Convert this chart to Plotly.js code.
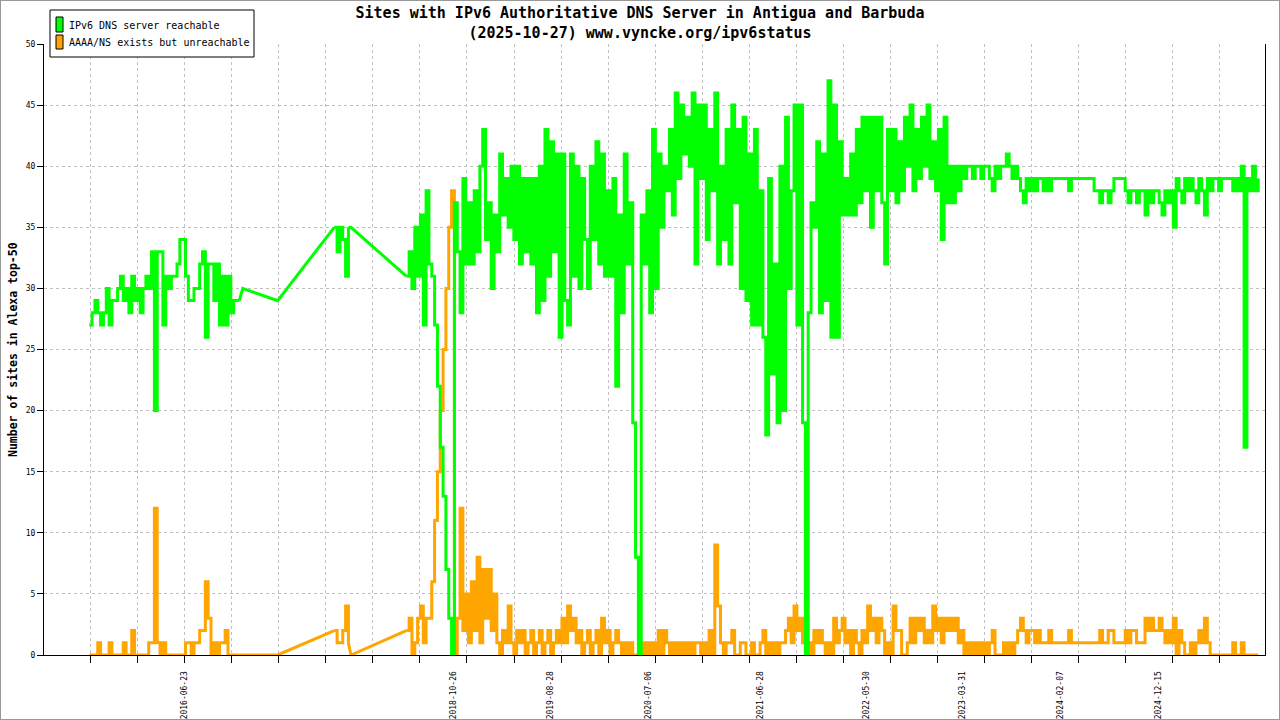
<!DOCTYPE html>
<html><head><meta charset="utf-8">
<script src="https://cdn.plot.ly/plotly-3.0.1.min.js"></script>
<style>
html,body{margin:0;padding:0;background:#fff}
#chart{width:1280px;height:720px}
#frame{position:absolute;left:0;top:0;width:1280px;height:720px;box-sizing:border-box;border:1px solid #999;pointer-events:none}
</style>
</head><body><div id="chart"></div><div id="frame"></div>
<script>
// ---- data ----
const stepDays = 9;
const seg1Start = '2015-08-24';
const seg2Start = '2017-10-11';
const seg3Start = '2018-05-28';

const green1 = [27,28,29,28,27,28, 30,27,29,29,30,31, 29,30,28,31,29,30, 28,30,31,30,33,20,
  33,33,27,31,30,31, 31,32,34,34,31,29, 29,30,30,32,33,26, 32,32,29,32,27,31, 27,31,28,29,29,29];
const orange1 = [0,0,0,1,0,0, 0,1,0,0,0,0, 1,0,0,2,0,0, 0,0,0,1,1,12,
  1,0,1,0,0,0, 0,0,0,0,1,1, 0,1,1,2,2,6, 3,0,1,0,1,1, 2,0,0,0,0,0];

const gapDatesA = ['2016-12-24','2017-04-14'];
const greenGapA = [30,29];
const orangeGapA = [0,0];

const green2 = [35,33,35,34,31,35];
const orange2 = [2,1,1,2,4,1];

const gapDatesB = ['2017-12-03'];
const greenGapB = [35];
const orangeGapB = [0];

const green3 = [
 31,33,30,35,31,36, 27,38,32,31,27,22, 17,13,7,3,0,37, 33,28,39,32,37,32,
 38,33,40,43,34,37, 30,36,33,41,36,39, 35,40,34,40,32,39, 33,39,32,39,28,40,
 29,43,31,42,33,41, 26,41,29,27,41,31, 40,30,39,34,30,40, 34,42,32,41,31,38,
 31,39,22,36,28,41, 32,37,19,8,0,36, 32,38,28,43,30,41, 35,40,38,43,36,46,
 39,45,41,44,40,46, 32,45,39,45,34,43, 38,46,32,40,34,43, 32,45,37,43,30,44,
 29,41,27,43,27,38, 26,18,39,23,32,19, 40,20,44,30,38,45, 27,45,19,0,28,37,
 35,42,28,41,29,47, 26,45,26,42,36,39, 36,41,36,43,37,44, 38,44,35,44,38,44,
 37,32,43,38,43,37, 42,38,44,40,45,38, 43,39,44,40,45,39, 42,38,43,34,44,37,
 40,37,40,38,40,39, 40,40,39,40,40,39, 40,40,39,38,40,39, 40,40,41,40,39,40,
 39,38,37,39,38,39, 38,39,39,38,39,38, 39,39,39,39,39,39, 38,39,39,39,39,39,
 39,39,39,38,38,37, 38,38,37,38,39,39, 39,39,38,37,38,38, 37,38,38,36,38,37,
 38,38,37,36,38,37, 38,35,39,38,37,39, 38,39,38,37,39,38, 36,39,38,39,39,38,
 39,39,39,39,38,39, 38,40,17,39,38,40, 38,39];
const orange3 = [
 2,3,0,1,3,4, 1,3,3,6,11,15, 20,25,30,35,38,0, 3,12,2,5,1,6,
 2,8,1,7,3,7, 2,5,1,0,2,1, 4,1,0,2,1,2, 0,1,2,0,1,2,
 0,1,2,0,1,2, 1,3,1,4,2,3, 1,2,0,1,2,0, 1,2,0,3,1,2,
 0,1,2,1,0,1, 0,1,0,0,0,1, 0,1,0,1,0,2, 0,2,1,0,1,0,
 1,0,1,0,1,0, 1,1,0,1,0,2, 0,9,4,1,0,1, 1,2,0,0,1,1,
 0,0,1,0,0,1, 2,0,1,0,1,0, 1,1,2,3,1,4, 2,3,1,0,1,0,
 2,1,2,1,0,1, 0,3,1,2,3,1, 2,0,2,1,0,2, 1,4,2,3,1,3,
 2,0,1,0,4,2, 2,0,0,1,3,1, 3,2,3,1,2,1, 4,2,3,1,3,2,
 3,2,3,1,2,0, 1,0,1,0,1,0, 1,0,1,2,0,0, 0,1,0,1,0,1,
 2,3,2,1,2,2, 1,2,1,1,1,2, 1,1,1,1,1,1, 2,1,1,1,1,1,
 1,1,1,1,1,2, 1,1,2,2,1,1, 1,1,2,1,2,2, 1,1,1,3,2,3,
 2,2,3,2,1,2, 1,3,0,2,1,0, 0,1,0,1,2,1, 3,1,0,0,0,0,
 0,0,0,0,1,0, 0,1,0,0,0,0, 0,0];

const labelDates = ['2016-06-23','2018-10-26','2019-08-28','2020-07-06','2021-06-28',
  '2022-05-30','2023-03-31','2024-02-07','2024-12-15'];
const seriesNames = ['IPv6 DNS server reachable','AAAA/NS exists but unreachable'];
const titleLines = ['Sites with IPv6 Authoritative DNS Server in Antigua and Barbuda',
  '(2025-10-27) www.vyncke.org/ipv6status'];
const yTitle = 'Number of sites in Alexa top-50';

// ---- build ----
function seq(start, step, n){
  const t0 = Date.parse(start + 'T00:00:00Z'); const out = [];
  for (let i = 0; i < n; i++) out.push(new Date(t0 + i*step*864e5).toISOString().slice(0,10));
  return out;
}
const GREEN = '#00ff00', ORANGE = '#ffa500';
const FONT = 'DejaVu Sans Mono, Liberation Mono, monospace';

// dense segments drawn as steps, data gaps bridged by straight lines
function seriesTraces(color, name, s1, gA, s2, gB, s3){
  const x1 = seq(seg1Start, stepDays, s1.length);
  const x2 = seq(seg2Start, stepDays, s2.length);
  const x3 = seq(seg3Start, stepDays, s3.length);
  const base = {type: 'scatter', mode: 'lines', name: name, cliponaxis: false, hoverinfo: 'skip', showlegend: false};
  const step = Object.assign({}, base, {line: {color: color, width: 3, shape: 'hv'}});
  const lin = Object.assign({}, base, {line: {color: color, width: 3, shape: 'linear'}});
  return [
    Object.assign({}, step, {x: x1, y: s1}),
    Object.assign({}, lin, {x: [x1[x1.length-1]].concat(gapDatesA, [x2[0]]), y: [s1[s1.length-1]].concat(gA, [s2[0]])}),
    Object.assign({}, step, {x: x2, y: s2}),
    Object.assign({}, lin, {x: [x2[x2.length-1]].concat(gapDatesB, [x3[0]]), y: [s2[s2.length-1]].concat(gB, [s3[0]])}),
    Object.assign({}, step, {x: x3, y: s3})
  ];
}

const W = 1280, H = 720, ML = 44, MR = 15, MT = 44, MB = 65;
const PW = W - ML - MR, PH = H - MT - MB;
const px = x => (x - ML) / PW;
const py = y => (H - MB - y) / PH;
const xRange = ['2015-04-02', '2025-11-17 12:00'];

const traces = []
  .concat(seriesTraces(ORANGE, seriesNames[1], orange1, orangeGapA, orange2, orangeGapB, orange3))
  .concat(seriesTraces(GREEN, seriesNames[0], green1, greenGapA, green2, greenGapB, green3))
  .concat([{x: [], y: [], xaxis: 'x2', type: 'scatter', mode: 'lines', showlegend: false, hoverinfo: 'skip'}]);

const layout = {
  width: W, height: H,
  margin: {l: ML, r: MR, t: MT, b: MB, pad: 0},
  paper_bgcolor: '#fff', plot_bgcolor: '#fff',
  showlegend: false,
  font: {family: FONT, color: '#000', size: 8},
  title: {text: '<b>' + titleLines.join('<br>') + '</b>', font: {family: FONT, size: 15, color: '#000'},
          x: 0.5, xref: 'container', xanchor: 'center', y: 0.975, yref: 'container', yanchor: 'top'},
  xaxis: {type: 'date', range: xRange, tick0: '2016-06-23', dtick: 149.5*864e5,
          showticklabels: false, ticks: 'outside', ticklen: 7, tickcolor: '#000', tickwidth: 1,
          showgrid: true, gridcolor: '#c0c0c0', griddash: '3px,3px', gridwidth: 1,
          showline: true, linecolor: '#000', linewidth: 1, zeroline: false, layer: 'below traces', fixedrange: true},
  xaxis2: {type: 'date', overlaying: 'x', anchor: 'y', side: 'bottom', range: xRange,
           tickmode: 'array', tickvals: labelDates, ticktext: labelDates, tickangle: -90,
           ticks: 'outside', ticklen: 12, tickcolor: 'rgba(0,0,0,0)', showgrid: false, showline: false,
           zeroline: false, tickfont: {family: FONT, size: 8, color: '#000'}, fixedrange: true},
  yaxis: {range: [0, 50], tick0: 0, dtick: 5, ticks: 'outside', ticklen: 6, tickcolor: '#000',
          showline: true, mirror: true, linecolor: '#000', linewidth: 1,
          showgrid: true, gridcolor: '#c0c0c0', griddash: '3px,3px', gridwidth: 1,
          zeroline: false, tickfont: {family: FONT, size: 8, color: '#000'}, layer: 'below traces', fixedrange: true},
  shapes: [
    {type: 'rect', xref: 'paper', yref: 'paper', x0: px(50), x1: px(254), y0: py(57), y1: py(10),
     fillcolor: '#fff', line: {color: '#000', width: 1}, layer: 'above'},
    {type: 'rect', xref: 'paper', yref: 'paper', x0: px(56), x1: px(63), y0: py(32), y1: py(17),
     fillcolor: GREEN, line: {color: '#000', width: 1}, layer: 'above'},
    {type: 'rect', xref: 'paper', yref: 'paper', x0: px(56), x1: px(63), y0: py(49), y1: py(35),
     fillcolor: ORANGE, line: {color: '#000', width: 1}, layer: 'above'}
  ],
  annotations: [
    {xref: 'paper', yref: 'paper', x: px(67), y: py(25.5), xanchor: 'left', yanchor: 'middle', showarrow: false,
     text: seriesNames[0], font: {family: FONT, size: 10, color: '#000'}},
    {xref: 'paper', yref: 'paper', x: px(67), y: py(43), xanchor: 'left', yanchor: 'middle', showarrow: false,
     text: seriesNames[1], font: {family: FONT, size: 10, color: '#000'}},
    {xref: 'paper', yref: 'paper', x: px(13), y: py(350), xanchor: 'center', yanchor: 'middle', showarrow: false,
     textangle: -90, text: '<b>' + yTitle + '</b>', font: {family: FONT, size: 11.5, color: '#000'}}
  ]
};

Plotly.newPlot('chart', traces, layout, {displayModeBar: false, staticPlot: true});
</script></body></html>
